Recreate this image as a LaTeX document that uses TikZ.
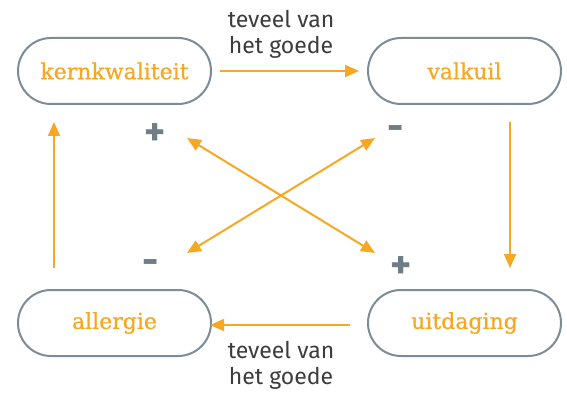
\documentclass[tikz,border=0pt]{standalone}
\usepackage{fontspec}
\setmainfont{DejaVu Serif}
\newfontfamily\nodefont[FakeBold=0.7]{DejaVu Serif}
\newfontfamily\labelfont{Fira Sans}
\usetikzlibrary{arrows.meta}
\definecolor{oranj}{HTML}{F7A823}
\definecolor{boxgray}{HTML}{7C8B94}
\definecolor{txtgray}{HTML}{3C3C3C}
\definecolor{signgray}{HTML}{6E7D86}
\tikzset{
  pill/.style={draw=boxgray, line width=2pt, rounded corners=33pt, minimum width=193pt, minimum height=66pt, text=oranj, font=\nodefont\fontsize{22}{24}\selectfont, inner sep=0pt},
  conn/.style={draw=oranj, line width=2pt, -{Triangle[width=12pt,length=14pt]}},
  dconn/.style={draw=oranj, line width=2pt, {Triangle[width=12pt,length=14pt]}-{Triangle[width=12pt,length=14pt]}},
  lbl/.style={text=txtgray, font=\labelfont\fontsize{23}{26}\selectfont, align=center, inner sep=0pt},
  sign/.style={text=signgray, font=\labelfont\bfseries\fontsize{40}{40}\selectfont, inner sep=0pt}
}
\begin{document}
\begin{tikzpicture}[x=1pt,y=-1pt]
\useasboundingbox (0,0) rectangle (567,395);
\node[pill] (kern) at (114.5,71) {kernkwaliteit};
\node[pill] (valk) at (464.5,71) {valkuil};
\node[pill] (allg) at (114.5,323) {allergie};
\node[pill] (uitd) at (464.5,323) {uitdaging};
\coordinate (a1) at (220,71);
\coordinate (a2) at (359,71);
\coordinate (b1) at (510,122);
\coordinate (b2) at (510,268);
\coordinate (c1) at (350,325);
\coordinate (c2) at (210,325);
\coordinate (d1) at (54,268);
\coordinate (d2) at (54,122);
\coordinate (p1) at (187,138);
\coordinate (p2) at (375,253);
\coordinate (m1) at (375,138);
\coordinate (m2) at (187,253);
\draw[conn] (a1) -- (a2);
\draw[conn] (b1) -- (b2);
\draw[conn] (c1) -- (c2);
\draw[conn] (d1) -- (d2);
\draw[dconn] (p1) -- (p2);
\draw[dconn] (m1) -- (m2);
\node[lbl] (t1) at (281,34) {teveel van\\het goede};
\node[lbl] (t2) at (281,365) {teveel van\\het goede};
\node[sign] (s1) at (155,135) {+};
\node[sign] (s2) at (396,133) {-};
\node[sign] (s3) at (151,267) {-};
\node[sign] (s4) at (401,268) {+};
\end{tikzpicture}
\end{document}
